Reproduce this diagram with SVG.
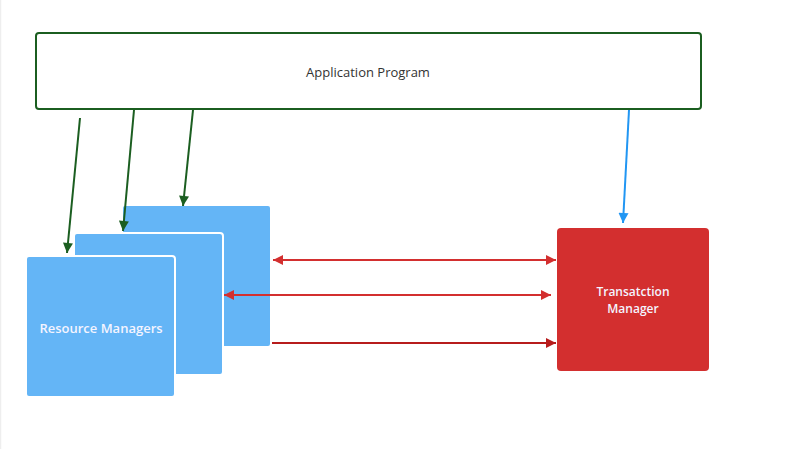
<svg xmlns="http://www.w3.org/2000/svg" width="785" height="449" viewBox="0 0 785 449">
<defs>
<style>
.lbl{font-family:"Open Sans","Liberation Sans",sans-serif;font-size:13px;text-anchor:middle;dominant-baseline:central}
.wlbl{fill:#f4f4ff;font-weight:600}
.tl{font-size:12px}
.rm{fill:#64b5f6;stroke:#ffffff;stroke-width:2}
.g{stroke:#1b5e20;stroke-width:2;fill:none}
.r{stroke:#d32f2f;stroke-width:2;fill:none}
</style>
<marker id="ag" viewBox="0 0 10 10" refX="10" refY="5" markerWidth="5.5" markerHeight="5" orient="auto"><path d="M0,0L10,5L0,10z" fill="#1b5e20"/></marker>
<marker id="ab" viewBox="0 0 10 10" refX="10" refY="5" markerWidth="5.5" markerHeight="5" orient="auto"><path d="M0,0L10,5L0,10z" fill="#2196f3"/></marker>
<marker id="ar" viewBox="0 0 10 10" refX="10" refY="5" markerWidth="6.5" markerHeight="5" orient="auto-start-reverse"><path d="M0,0L10,5L0,10z" fill="#d32f2f"/></marker>
<marker id="ad" viewBox="0 0 10 10" refX="10" refY="5" markerWidth="6.5" markerHeight="5" orient="auto"><path d="M0,0L10,5L0,10z" fill="#b71c1c"/></marker>
</defs>
<rect width="785" height="449" fill="#ffffff"/>
<line x1="0.5" y1="0" x2="0.5" y2="449" stroke="#eeeeee" stroke-width="1.5"/>
<g id="app">
<rect x="36" y="33" width="665" height="76" rx="3" fill="#ffffff" stroke="#1b5e20" stroke-width="2"/>
<text class="lbl" x="368" y="72" fill="#333333">Application Program</text>
</g>
<g id="rm3"><rect class="rm" x="122" y="205" width="149" height="142" rx="3"/></g>
<g id="rm2"><rect class="rm" x="74" y="233" width="149" height="142" rx="3"/></g>
<g id="rm1">
<rect class="rm" x="26" y="256" width="149" height="141" rx="3"/>
<text class="lbl wlbl" x="101" y="328">Resource Managers</text>
</g>
<g id="tm">
<rect x="557" y="228" width="152" height="143" rx="4" fill="#d32f2f"/>
<text class="lbl wlbl tl" x="633" y="291.5">Transatction</text>
<text class="lbl wlbl tl" x="633" y="308.5">Manager</text>
</g>
<g id="connectors">
<line class="g" x1="80" y1="118" x2="67" y2="253" marker-end="url(#ag)"/>
<line class="g" x1="134" y1="110" x2="123" y2="231" marker-end="url(#ag)"/>
<line class="g" x1="193" y1="110" x2="183" y2="206" marker-end="url(#ag)"/>
<line x1="629" y1="110" x2="623" y2="223" stroke="#2196f3" stroke-width="2" marker-end="url(#ab)"/>
<line class="r" x1="273" y1="260" x2="556" y2="260" marker-start="url(#ar)" marker-end="url(#ar)"/>
<line class="r" x1="224" y1="295" x2="551" y2="295" marker-start="url(#ar)" marker-end="url(#ar)"/>
<line x1="272" y1="343" x2="556" y2="343" stroke="#b71c1c" stroke-width="2" marker-end="url(#ad)"/>
</g>
</svg>
